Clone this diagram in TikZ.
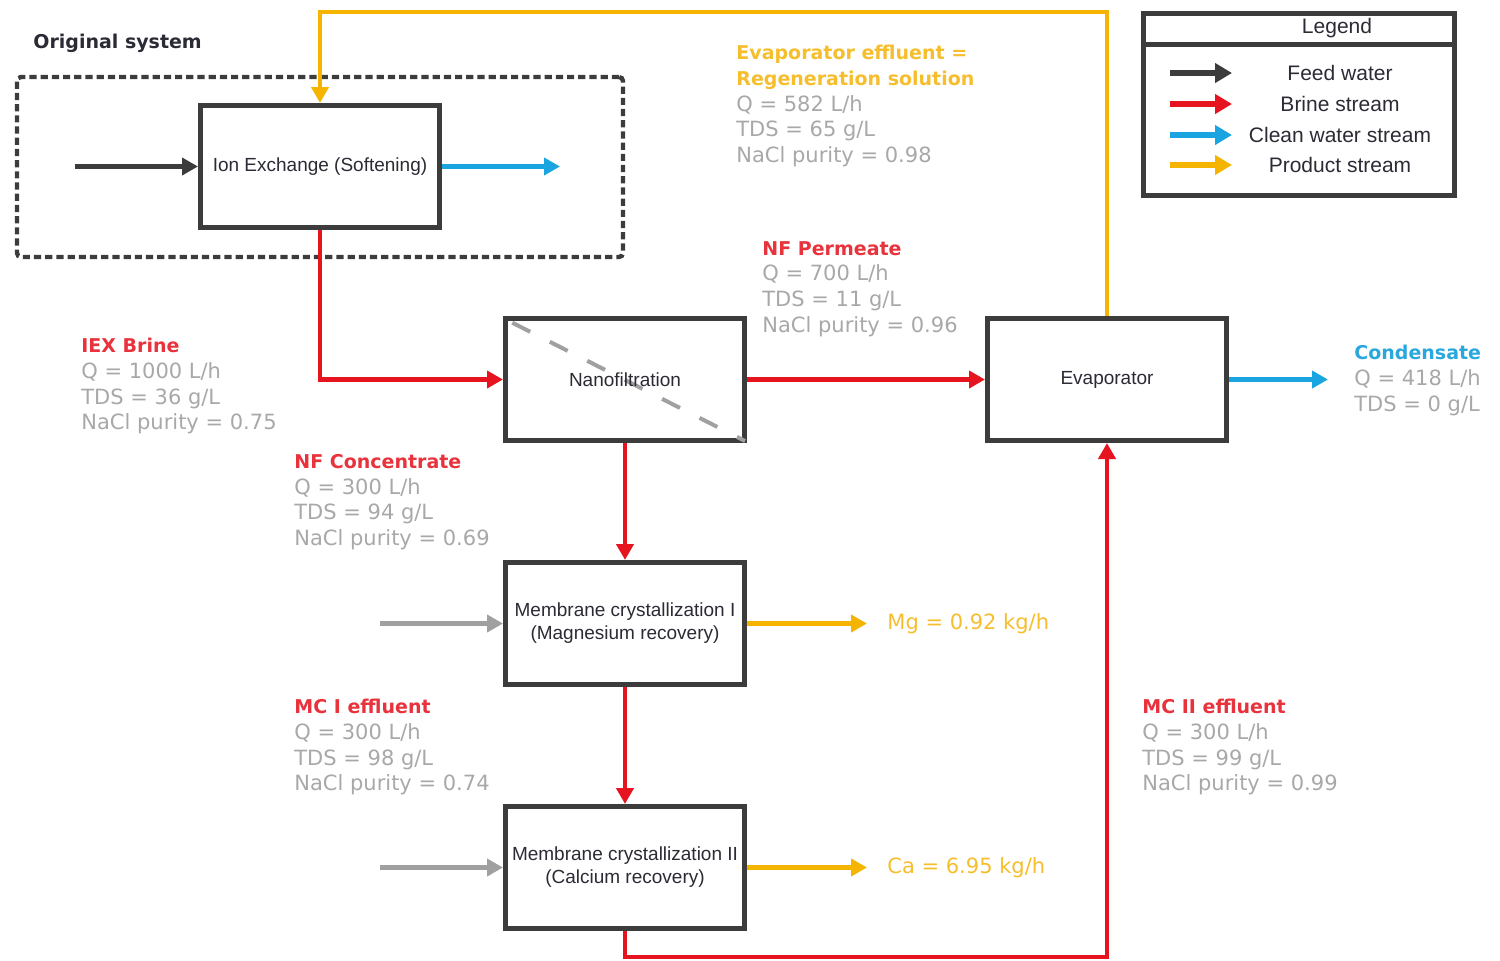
\documentclass[tikz,border=0pt]{standalone}
\usepackage{fontspec}
\setmainfont{DejaVu Sans}
\newfontfamily\boxfont{Liberation Sans}
\usetikzlibrary{arrows.meta}
\definecolor{boxgray}{HTML}{3C3C3C}
\definecolor{txtdark}{HTML}{2B2B35}
\definecolor{lgray}{HTML}{A8A8A8}
\definecolor{agray}{HTML}{A0A0A0}
\definecolor{sred}{HTML}{E5141E}
\definecolor{lred}{HTML}{E8323C}
\definecolor{syellow}{HTML}{F5B400}
\definecolor{lyellow}{HTML}{F6BE2C}
\definecolor{sblue}{HTML}{1BA5E0}
\definecolor{lblue}{HTML}{2AA8DE}
\newcommand\ttlfont{\fontsize{9.5}{12.85}\selectfont\bfseries}
\tikzset{
  unitbox/.style={draw=boxgray, line width=2.5pt, fill=white, minimum width=119.5pt, minimum height=61pt, inner sep=2pt, align=center, text=txtdark, font=\boxfont\fontsize{9.5}{11.5}\selectfont},
  flow/.style={line width=2.3pt, -{Triangle[length=8pt,width=8.5pt]}},
  feedarrow/.style={flow, draw=boxgray, fill=boxgray},
  brinearrow/.style={flow, draw=sred},
  cleanarrow/.style={flow, draw=sblue},
  prodarrow/.style={flow, draw=syellow},
  grayarrow/.style={flow, draw=agray},
  legarrow/.style={line width=3pt, -{Triangle[length=8.5pt,width=9.5pt]}},
  lbl/.style={anchor=north west, inner sep=0pt, align=left, text=lgray, font=\fontsize{10.5}{12.85}\selectfont},
  legtxt/.style={inner sep=0pt, text=txtdark, font=\boxfont\fontsize{10.5}{12}\selectfont},
}
\begin{document}
\begin{tikzpicture}[x=0.5pt, y=-0.5pt]
\useasboundingbox (0,0) rectangle (1500,960);

% original system frame
\node[draw=boxgray, line width=2.2pt, dash pattern=on 3.6pt off 2pt, rounded corners=2pt, minimum width=303pt, minimum height=90pt, inner sep=0pt] (orig) at (320,167) {};
\node[anchor=west, inner sep=0pt, text=txtdark, font=\fontsize{9.5}{11}\selectfont\bfseries] (origtxt) at (33,43) {Original system};

% units
\node[unitbox] (iex) at (320,166.5) {Ion Exchange (Softening)};
\node[unitbox] (nf) at (625,379.5) {};
\draw[agray, line width=2pt, dash pattern=on 10pt off 11pt, dash phase=-3pt] ([shift={(2pt,-2pt)}]nf.north west) -- ([shift={(-1pt,1pt)}]nf.south east);
\node[inner sep=0pt, text=txtdark, font=\boxfont\fontsize{9.5}{11.5}\selectfont] (nftxt) at (nf.center) {Nanofiltration};
\node[unitbox] (evap) at (1107,379.5) {Evaporator};
\node[unitbox] (mc1) at (625,623.5) {Membrane crystallization I\\(Magnesium recovery)};
\node[unitbox] (mc2) at (625,867.5) {Membrane crystallization II\\(Calcium recovery)};

% free ends
\coordinate (feedin) at (75,166.5);
\coordinate (cwout) at (560,166.5);
\coordinate (condout) at (1328,379.5);
\coordinate (topL) at (320,12);
\coordinate (loopR) at (1107,957);
\coordinate (mg1in) at (380,623.5);
\coordinate (mgout) at (867,623.5);
\coordinate (ca2in) at (380,867.5);
\coordinate (caout) at (867,867.5);

% connectors
\draw[feedarrow] (feedin) -- (iex.west);
\draw[cleanarrow] (iex.east) -- (cwout);
\draw[prodarrow] (evap.north) |- (topL) -- (iex.north);
\draw[brinearrow] (iex.south) |- (nf.west);
\draw[brinearrow] (nf.east) -- (evap.west);
\draw[cleanarrow] (evap.east) -- (condout);
\draw[brinearrow] (nf.south) -- (mc1.north);
\draw[brinearrow] (mc1.south) -- (mc2.north);
\draw[brinearrow] (mc2.south) |- (loopR) -- (evap.south);
\draw[grayarrow] (mg1in) -- (mc1.west);
\draw[grayarrow] (ca2in) -- (mc2.west);
\draw[prodarrow] (mc1.east) -- (mgout);
\draw[prodarrow] (mc2.east) -- (caout);

% product labels
\node[anchor=west, inner sep=0pt, text=lyellow, font=\fontsize{10.5}{12}\selectfont] (mglbl) at (887,623.5) {Mg = 0.92 kg/h};
\node[anchor=west, inner sep=0pt, text=lyellow, font=\fontsize{10.5}{12}\selectfont] (calbl) at (887,867.5) {Ca = 6.95 kg/h};

% stream labels
\node[lbl] (evlbl) at (736,45) {{\ttlfont\color{lyellow}Evaporator effluent =}\\{\ttlfont\color{lyellow}Regeneration solution}\\Q = 582 L/h\\TDS = 65 g/L\\NaCl purity = 0.98};
\node[lbl] (nfplbl) at (762,241) {{\ttlfont\color{lred}NF Permeate}\\Q = 700 L/h\\TDS = 11 g/L\\NaCl purity = 0.96};
\node[lbl] (iexlbl) at (81,338) {{\ttlfont\color{lred}IEX Brine}\\Q = 1000 L/h\\TDS = 36 g/L\\NaCl purity = 0.75};
\node[lbl] (nfclbl) at (294,454) {{\ttlfont\color{lred}NF Concentrate}\\Q = 300 L/h\\TDS = 94 g/L\\NaCl purity = 0.69};
\node[lbl] (mc1lbl) at (294,699) {{\ttlfont\color{lred}MC I effluent}\\Q = 300 L/h\\TDS = 98 g/L\\NaCl purity = 0.74};
\node[lbl] (mc2lbl) at (1142,699) {{\ttlfont\color{lred}MC II effluent}\\Q = 300 L/h\\TDS = 99 g/L\\NaCl purity = 0.99};
\node[lbl] (condlbl) at (1354,345) {{\ttlfont\color{lblue}Condensate}\\Q = 418 L/h\\TDS = 0 g/L};

% legend
\node[draw=boxgray, line width=2.5pt, minimum width=155.5pt, minimum height=91pt, inner sep=0pt] (legbox) at (1299,104.5) {};
\coordinate (lhl) at (1142,44);
\coordinate (lhr) at (1456,44);
\draw[boxgray, line width=2.5pt] (lhl) -- (lhr);
\node[legtxt] (legtitle) at (1337,28) {Legend};
\coordinate (l1a) at (1170,73);  \coordinate (l1b) at (1232,73);
\coordinate (l2a) at (1170,104); \coordinate (l2b) at (1232,104);
\coordinate (l3a) at (1170,135); \coordinate (l3b) at (1232,135);
\coordinate (l4a) at (1170,165); \coordinate (l4b) at (1232,165);
\draw[legarrow, draw=boxgray] (l1a) -- (l1b);
\draw[legarrow, draw=sred] (l2a) -- (l2b);
\draw[legarrow, draw=sblue] (l3a) -- (l3b);
\draw[legarrow, draw=syellow] (l4a) -- (l4b);
\node[legtxt] (lt1) at (1340,73) {Feed water};
\node[legtxt] (lt2) at (1340,104) {Brine stream};
\node[legtxt] (lt3) at (1340,135) {Clean water stream};
\node[legtxt] (lt4) at (1340,165) {Product stream};
\end{tikzpicture}
\end{document}
